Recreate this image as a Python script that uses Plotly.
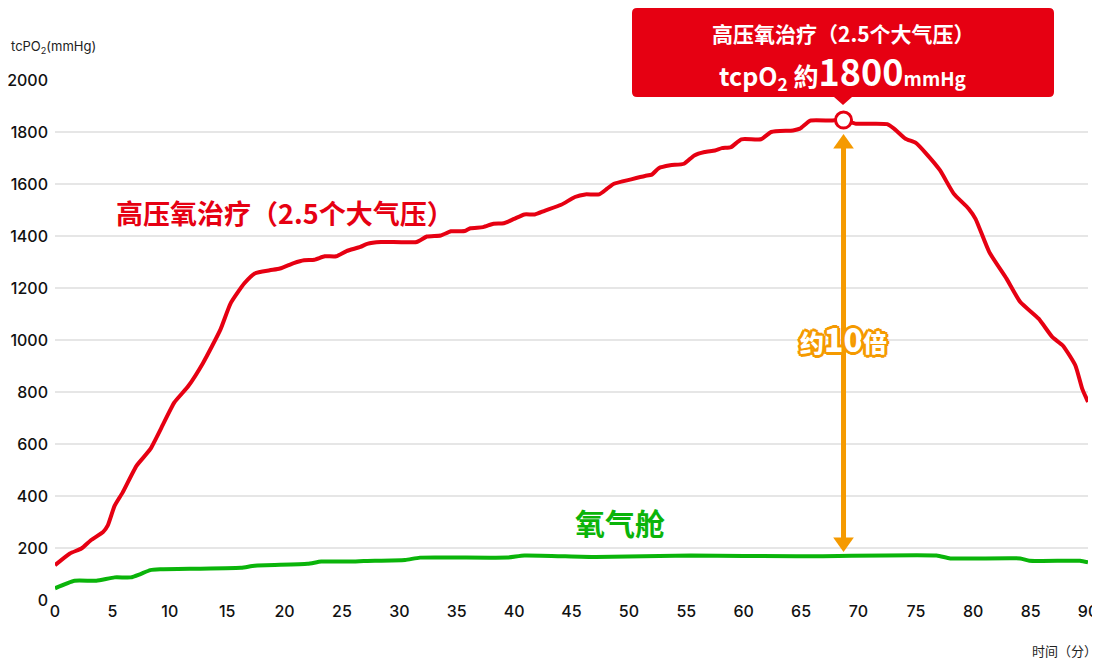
import numpy as np
import plotly.graph_objects as go

# tcPO2 readings
time_hbot = [0, 1.3, 2.3, 3.1, 4.2, 4.6, 5.2, 5.9, 7.1, 8.3, 9.5, 10.4, 11.6, 12.9, 14.4, 15.3,
             16.5, 17.4, 18.7, 19.6, 20.8, 21.7, 22.6, 23.5, 24.5, 25.4, 26.6, 27.2, 28.4, 31.5,
             32.4, 33.6, 34.5, 35.7, 36.2, 37.3, 38.2, 39.1, 40.0, 40.9, 41.8, 42.7, 44.1, 45.3,
             46.2, 47.4, 48.1, 48.7, 50.2, 51.4, 52.0, 52.6, 53.6, 54.8, 55.7, 56.6, 57.5, 58.1,
             58.9, 59.8, 61.5, 62.4, 64.3, 64.9, 65.8, 67.6, 68.7, 69.8, 72.5, 73.1, 74.1, 75.0,
             75.9, 77.1, 78.3, 79.6, 80.2, 81.4, 82.9, 84.1, 85.7, 86.9, 87.8, 88.9, 89.5, 90]
tcpo2_hbot = [134, 179, 198, 229, 262, 287, 363, 414, 516, 580, 683, 760, 822, 912, 1039, 1141,
              1218, 1256, 1268, 1275, 1296, 1307, 1309, 1322, 1322, 1342, 1358, 1370, 1377, 1377,
              1398, 1402, 1418, 1419, 1430, 1434, 1447, 1449, 1466, 1483, 1483, 1498, 1520, 1550,
              1560, 1560, 1582, 1601, 1618, 1631, 1636, 1661, 1672, 1678, 1710, 1723, 1729, 1738,
              1742, 1772, 1772, 1800, 1806, 1813, 1844, 1844, 1846, 1832, 1830, 1813, 1774, 1758,
              1717, 1653, 1563, 1505, 1466, 1338, 1236, 1146, 1082, 1011, 979, 902, 812, 762]

time_chamber = [0, 1.7, 3.6, 5.2, 6.6, 7.4, 8.3, 9.2, 16.2, 17.4, 22.0, 23.2, 26.0, 26.9,
                30.5, 31.8, 39.4, 40.9, 47.1, 55.4, 64.6, 76.8, 78.0, 84.1, 84.9, 89.3, 90]
tcpo2_chamber = [45, 74, 74, 87, 87, 99, 115, 118, 124, 132, 139, 148, 148, 150,
                 154, 163, 163, 171, 165, 171, 168, 171, 160, 160, 151, 151, 145]

x_ticks = list(range(0, 91, 5))

RED = "#e60012"
GREEN = "#0ab40a"
ORANGE = "#f59a00"
CJK = "Noto Sans CJK SC"
TICK = "Inter, Noto Sans CJK SC"

# the page body has an 8px margin, so the figure is 8px smaller and the
# pixel positions below are given in page coordinates
PAGE_OFF = 8
W, H = 1100 - PAGE_OFF, 660 - PAGE_OFF
L, R, T, B = 55 - PAGE_OFF, 12, 80 - PAGE_OFF, 60
PW, PH = W - L - R, H - T - B


def px(x):
    return (x - PAGE_OFF - L) / PW


def py(y):
    return (T + PH - (y - PAGE_OFF)) / PH


fig = go.Figure()

fig.add_trace(go.Scatter(x=time_chamber, y=tcpo2_chamber, mode="lines",
                         line=dict(color=GREEN, width=4, shape="spline", smoothing=0.5),
                         cliponaxis=False, hoverinfo="x+y"))
fig.add_trace(go.Scatter(x=time_hbot, y=tcpo2_hbot, mode="lines",
                         line=dict(color=RED, width=4, shape="spline", smoothing=0.5),
                         cliponaxis=False, hoverinfo="x+y"))

# peak marker
i_peak = int(np.argmax(tcpo2_hbot))
peak_t, peak_v = time_hbot[i_peak], tcpo2_hbot[i_peak]
fig.add_trace(go.Scatter(x=[peak_t], y=[peak_v], mode="markers",
                         marker=dict(size=16, color="white", line=dict(color=RED, width=3)),
                         cliponaxis=False, hoverinfo="x+y"))

# orange double arrow between the two curves
low_v = float(np.interp(peak_t, time_chamber, tcpo2_chamber))
top_tip, bot_tip = peak_v - 54, low_v + 16
head_h, head_w = 55, 0.9
shapes = [
    dict(type="line", xref="x", yref="y", x0=peak_t, x1=peak_t,
         y0=bot_tip + head_h - 5, y1=top_tip - head_h + 5, line=dict(color=ORANGE, width=5)),
    dict(type="path", xref="x", yref="y", fillcolor=ORANGE, line=dict(width=0),
         path=f"M {peak_t - head_w},{top_tip - head_h} L {peak_t + head_w},{top_tip - head_h} L {peak_t},{top_tip} Z"),
    dict(type="path", xref="x", yref="y", fillcolor=ORANGE, line=dict(width=0),
         path=f"M {peak_t - head_w},{bot_tip + head_h} L {peak_t + head_w},{bot_tip + head_h} L {peak_t},{bot_tip} Z"),
]

# callout box with pointer (page pixels -> paper coords)
x0, x1, y0, y1, r = 632, 1054, 8, 97, 5
cx = 843
pts = (f"M {px(x0 + r)},{py(y0)} L {px(x1 - r)},{py(y0)} Q {px(x1)},{py(y0)} {px(x1)},{py(y0 + r)} "
       f"L {px(x1)},{py(y1 - r)} Q {px(x1)},{py(y1)} {px(x1 - r)},{py(y1)} "
       f"L {px(cx + 9)},{py(y1)} L {px(cx)},{py(y1 + 8)} L {px(cx - 9)},{py(y1)} "
       f"L {px(x0 + r)},{py(y1)} Q {px(x0)},{py(y1)} {px(x0)},{py(y1 - r)} "
       f"L {px(x0)},{py(y0 + r)} Q {px(x0)},{py(y0)} {px(x0 + r)},{py(y0)} Z")
shapes.append(dict(type="path", xref="paper", yref="paper", path=pts,
                   fillcolor=RED, line=dict(width=0), layer="above"))

outline = ", ".join(f"{ORANGE} {dx}px {dy}px 0px" for dx, dy in
                    [(3, 0), (-3, 0), (0, 3), (0, -3), (2, 2), (-2, -2), (2, -2), (-2, 2)])


def note(x, y, text, size, color, family=CJK, weight=700, xanchor="center", xref="paper", **kw):
    return dict(xref=xref, yref="paper", x=x, y=y, text=text, showarrow=False,
                xanchor=xanchor, yanchor="middle",
                font=dict(family=family, size=size, color=color, weight=weight, **kw))


annotations = [
    note(px(cx), py(33), "高压氧治疗（2.5个大气压）", 21, "white"),
    note(px(cx), py(70),
         "tcpO<sub>2</sub> 約<span style='font-size:36px'>1800</span><span style='font-size:19px'>mmHg</span>",
         25, "white"),
    note(px(285), py(212), "高压氧治疗（2.5个大气压）", 27, RED),
    note(px(620), py(522), "氧气舱", 30, GREEN),
    note(peak_t, py(338), "约<span style='font-size:32px'>10</span>倍", 24, "white",
         weight=900, xref="x", shadow=outline),
    note(px(9), py(47), "tcPO<sub>2</sub>(mmHg)", 13, "#222", family=TICK, weight=400,
         xanchor="left"),
    note(px(1099), py(650), "时间（分）", 13, "#222", weight=400, xanchor="right"),
]

fig.update_layout(
    width=W, height=H,
    margin=dict(l=L, r=R, t=T, b=B),
    paper_bgcolor="white", plot_bgcolor="white",
    showlegend=False,
    shapes=shapes,
    annotations=annotations,
    xaxis=dict(range=[0, 90], tickvals=x_ticks, showgrid=False, zeroline=False,
               showline=False, ticks="", automargin=False,
               tickfont=dict(family=TICK, size=16, color="#111", weight=500)),
    yaxis=dict(range=[0, 2000], dtick=200, gridcolor="#e6e6e6", gridwidth=1.5,
               zeroline=False, showline=False, ticks="", automargin=False,
               ticklabelstandoff=6,
               tickfont=dict(family=TICK, size=16, color="#111", weight=500)),
)

fig.write_html("out.html")
